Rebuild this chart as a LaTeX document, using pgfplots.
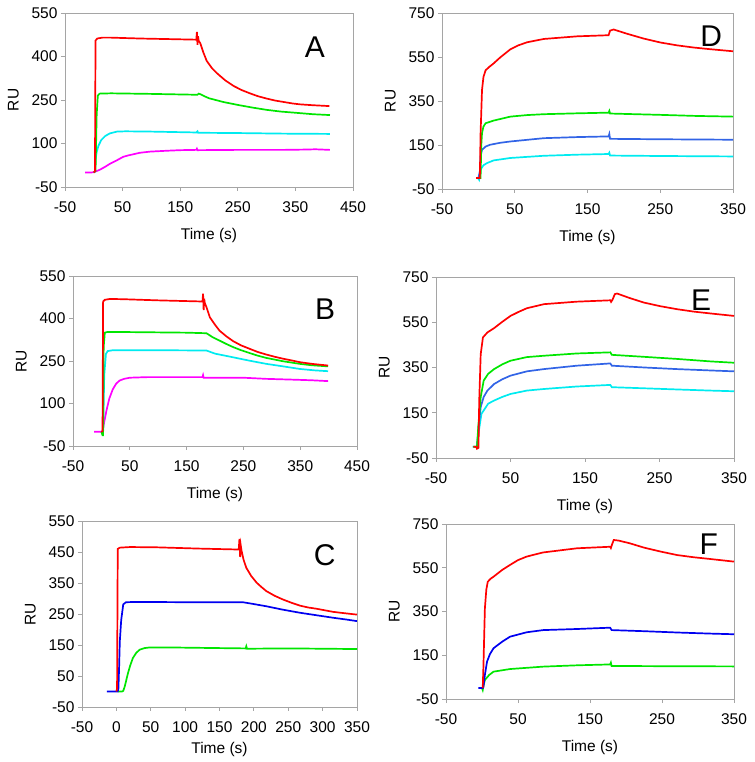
\documentclass[border=0pt]{standalone}
\usepackage{fontspec}
\setmainfont{Liberation Sans}
\usepackage{pgfplots}
\pgfplotsset{compat=1.18}
\definecolor{cred}{RGB}{255,0,0}
\definecolor{cgreen}{RGB}{0,230,0}
\definecolor{ccyan}{RGB}{0,235,240}
\definecolor{cmag}{RGB}{255,0,255}
\definecolor{cblue}{RGB}{0,0,240}
\definecolor{rblue}{RGB}{50,100,230}
\definecolor{axgray}{RGB}{165,165,165}
\tikzset{letter/.style={font=\fontsize{30}{36}\selectfont}}
\pgfplotsset{panel/.style={scale only axis, anchor=south west,
  axis line style={axgray, line width=0.8pt},
  tick align=outside, xtick pos=bottom, ytick pos=left,
  major tick length=4pt, tick style={axgray, line width=0.8pt},
  ticklabel style={font=\fontsize{15.5}{18}\selectfont, black},
  xticklabel style={yshift=-7pt},
  label style={font=\fontsize{15.5}{18}\selectfont},
  xlabel style={yshift=-9pt}, ylabel style={yshift=6pt},
  /pgf/number format/assume math mode=true,
  xlabel={Time (s)}, ylabel={RU},
  every axis plot/.append style={line width=1.7pt, no markers}}}
\begin{document}
\begin{tikzpicture}
\useasboundingbox (0,0) rectangle (754pt,762pt);
% ---------------- A
\begin{axis}[panel, at={(65pt,575pt)}, width=288pt, height=174pt,
  xmin=-50, xmax=450, ymin=-50, ymax=550,
  xtick={-50,50,...,450}, ytick={-50,100,...,550}]
\addplot[cmag] coordinates {(-15,0) (-5,0) (0,1) (5,5) (11,10) (20,20) (28,30) (40,42) (51,54) (60,59) (69,63) (80,68) (98,72) (127,75) (150,77) (178,78) (179,82) (180,77) (250,78) (330,78) (365,79) (385,80) (410,78)};
\addplot[ccyan] coordinates {(1,0) (2,5) (3,44) (5,70) (8,92) (13,112) (20,126) (28,135) (40,141) (55,142) (100,141) (178,138) (180,142) (181,137) (250,136) (330,134) (410,133)};
\addplot[cgreen] coordinates {(0,0) (3,5) (5,200) (7,265) (10,272) (30,273) (100,271) (180,268) (182,272) (185,270) (192,263) (200,256) (225,243) (250,233) (275,224) (300,216) (325,210) (350,206) (380,201) (410,198)};
\addplot[cred] coordinates {(0,0) (2,5) (3,455) (6,462) (15,465) (30,465) (80,462) (130,460) (178,458) (179,485) (180,440) (181,470) (182,455) (185,445) (190,415) (196,385) (205,360) (214,342) (228,318) (243,298) (257,284) (271,273) (285,263) (300,255) (315,248) (330,243) (345,238) (358,235) (380,232) (409,229)};
\node[letter] at (axis cs:384,433) {A};
\end{axis}
% ---------------- D
\begin{axis}[panel, at={(442pt,573pt)}, width=291pt, height=176pt,
  xmin=-50, xmax=350, ymin=-50, ymax=750,
  xtick={-50,50,...,350}, ytick={-50,150,...,750}]
\addplot[ccyan] coordinates {(-3,0) (0,-2) (1,-8) (2,10) (3,38) (7,58) (12,68) (21,80) (44,91) (90,101) (136,106) (179,109) (180,115) (181,102) (250,100) (350,98)};
\addplot[rblue] coordinates {(0,0) (2,30) (3,98) (5,128) (10,143) (16,151) (30,160) (44,166) (90,181) (136,186) (179,189) (180,200) (181,178) (250,176) (300,175) (350,174)};
\addplot[cgreen] coordinates {(-3,0) (3,0) (4,150) (5,204) (7,234) (10,249) (21,261) (44,279) (67,286) (90,290) (136,294) (179,297) (180,305) (181,293) (250,287) (300,282) (350,279)};
\addplot[cred] coordinates {(-3,0) (2,0) (3,200) (5,400) (7,460) (10,490) (15,505) (21,521) (30,548) (44,585) (55,603) (67,617) (90,632) (136,644) (179,649) (181,670) (186,675) (204,656) (227,634) (250,616) (273,603) (296,593) (320,585) (350,576)};
\node[letter] at (axis cs:320,645) {D};
\end{axis}
% ---------------- B
\begin{axis}[panel, at={(73pt,316pt)}, width=284pt, height=170pt,
  xmin=-50, xmax=450, ymin=-50, ymax=550,
  xtick={-50,50,...,450}, ytick={-50,100,...,550}]
\addplot[cmag] coordinates {(-13,0) (0,0) (2,2) (5,35) (9,76) (14,118) (20,150) (26,170) (32,181) (40,187) (50,191) (80,193) (150,193) (178,193) (179,200) (180,191) (250,191) (290,187) (340,184) (370,182) (399,179)};
\addplot[ccyan] coordinates {(1,0) (3,-5) (5,200) (8,275) (11,285) (20,288) (100,288) (185,287) (200,276) (232,263) (261,251) (290,240) (320,231) (349,222) (375,217) (399,214)};
\addplot[cgreen] coordinates {(0,0) (2,-12) (3,-12) (4,300) (6,350) (10,352) (50,352) (150,350) (185,348) (195,335) (208,322) (220,310) (232,299) (246,288) (261,278) (275,269) (290,261) (320,249) (349,240) (370,235) (399,231)};
\addplot[cred] coordinates {(0,0) (2,2) (3,460) (6,466) (15,469) (40,468) (100,464) (178,460) (179,488) (180,430) (181,470) (182,455) (185,440) (191,404) (200,378) (208,357) (220,337) (232,320) (246,305) (261,293) (275,282) (290,273) (305,265) (320,258) (335,252) (349,246) (370,240) (399,234)};
\node[letter] at (axis cs:394,434) {B};
\end{axis}
% ---------------- E
\begin{axis}[panel, at={(436pt,304pt)}, width=298pt, height=181pt,
  xmin=-50, xmax=350, ymin=-50, ymax=750,
  xtick={-50,50,...,350}, ytick={-50,150,...,750}]
\addplot[ccyan] coordinates {(-1,0) (5,0) (6,26) (8,80) (11,145) (20,190) (28,204) (39,220) (50,233) (72,248) (95,255) (139,266) (184,273) (186,263) (230,258) (273,253) (318,248) (350,245)};
\addplot[rblue] coordinates {(5,0) (7,80) (10,175) (14,220) (19,248) (28,277) (39,298) (50,314) (72,333) (95,343) (139,358) (184,368) (186,358) (230,350) (273,343) (318,337) (350,333)};
\addplot[cgreen] coordinates {(0,0) (5,0) (7,100) (10,219) (14,292) (20,322) (28,343) (39,364) (50,380) (72,396) (95,402) (139,412) (184,417) (186,406) (230,397) (273,388) (318,377) (350,371)};
\addplot[cred] coordinates {(0,0) (4,0) (5,-9) (7,-5) (8,200) (10,409) (13,483) (19,505) (28,524) (39,552) (50,578) (61,596) (72,612) (95,630) (139,641) (184,647) (185,640) (187,650) (190,674) (193,677) (210,657) (229,637) (251,621) (273,608) (296,597) (318,589) (350,578)};
\node[letter] at (axis cs:306,648) {E};
\end{axis}
% ---------------- C
\begin{axis}[panel, at={(82pt,55pt)}, width=275pt, height=186pt,
  xmin=-50, xmax=350, ymin=-50, ymax=550,
  xtick={-50,0,...,350}, ytick={-50,50,...,550},
  xlabel style={yshift=6pt}]
\addplot[cgreen] coordinates {(2,0) (8,0) (10,2) (12,15) (14,33) (17,60) (20,83) (24,108) (29,125) (34,135) (41,140) (48,142) (80,142) (150,140) (188,139) (189,146) (190,138) (250,139) (300,138) (350,137)};
\addplot[cblue] coordinates {(-14,0) (2,0) (3,10) (4,80) (5,162) (7,230) (10,281) (14,288) (30,289) (100,288) (184,288) (200,282) (218,275) (242,264) (267,254) (291,246) (315,238) (335,232) (350,227)};
\addplot[cred] coordinates {(0,0) (1,10) (2,460) (5,464) (20,466) (60,465) (120,461) (178,458) (179,492) (180,434) (181,470) (182,455) (185,425) (189,399) (196,373) (204,351) (211,337) (218,324) (230,309) (242,297) (255,286) (267,277) (279,271) (291,267) (303,262) (315,257) (330,253) (350,248)};
\node[letter] at (axis cs:303,440) {C};
\end{axis}
% ---------------- F
\begin{axis}[panel, at={(446pt,63pt)}, width=288pt, height=175pt,
  xmin=-50, xmax=350, ymin=-50, ymax=750,
  xtick={-50,50,...,350}, ytick={-50,150,...,750}]
\addplot[cgreen] coordinates {(0,0) (1,-9) (2,10) (4,37) (10,60) (16,75) (39,87) (85,98) (132,104) (178,108) (179,116) (180,101) (250,100) (350,99)};
\addplot[cblue] coordinates {(-5,0) (1,0) (2,6) (4,60) (7,121) (11,155) (16,182) (28,212) (39,235) (62,255) (85,265) (132,270) (178,276) (180,265) (225,260) (271,254) (317,249) (350,246)};
\addplot[cred] coordinates {(1,0) (2,100) (4,364) (6,450) (8,486) (12,500) (16,509) (28,540) (39,563) (50,585) (62,601) (85,620) (132,639) (178,646) (179,640) (181,660) (183,677) (190,674) (205,662) (225,642) (248,624) (271,608) (294,598) (317,590) (350,578)};
\node[letter] at (axis cs:315,659) {F};
\end{axis}
\end{tikzpicture}
\end{document}
